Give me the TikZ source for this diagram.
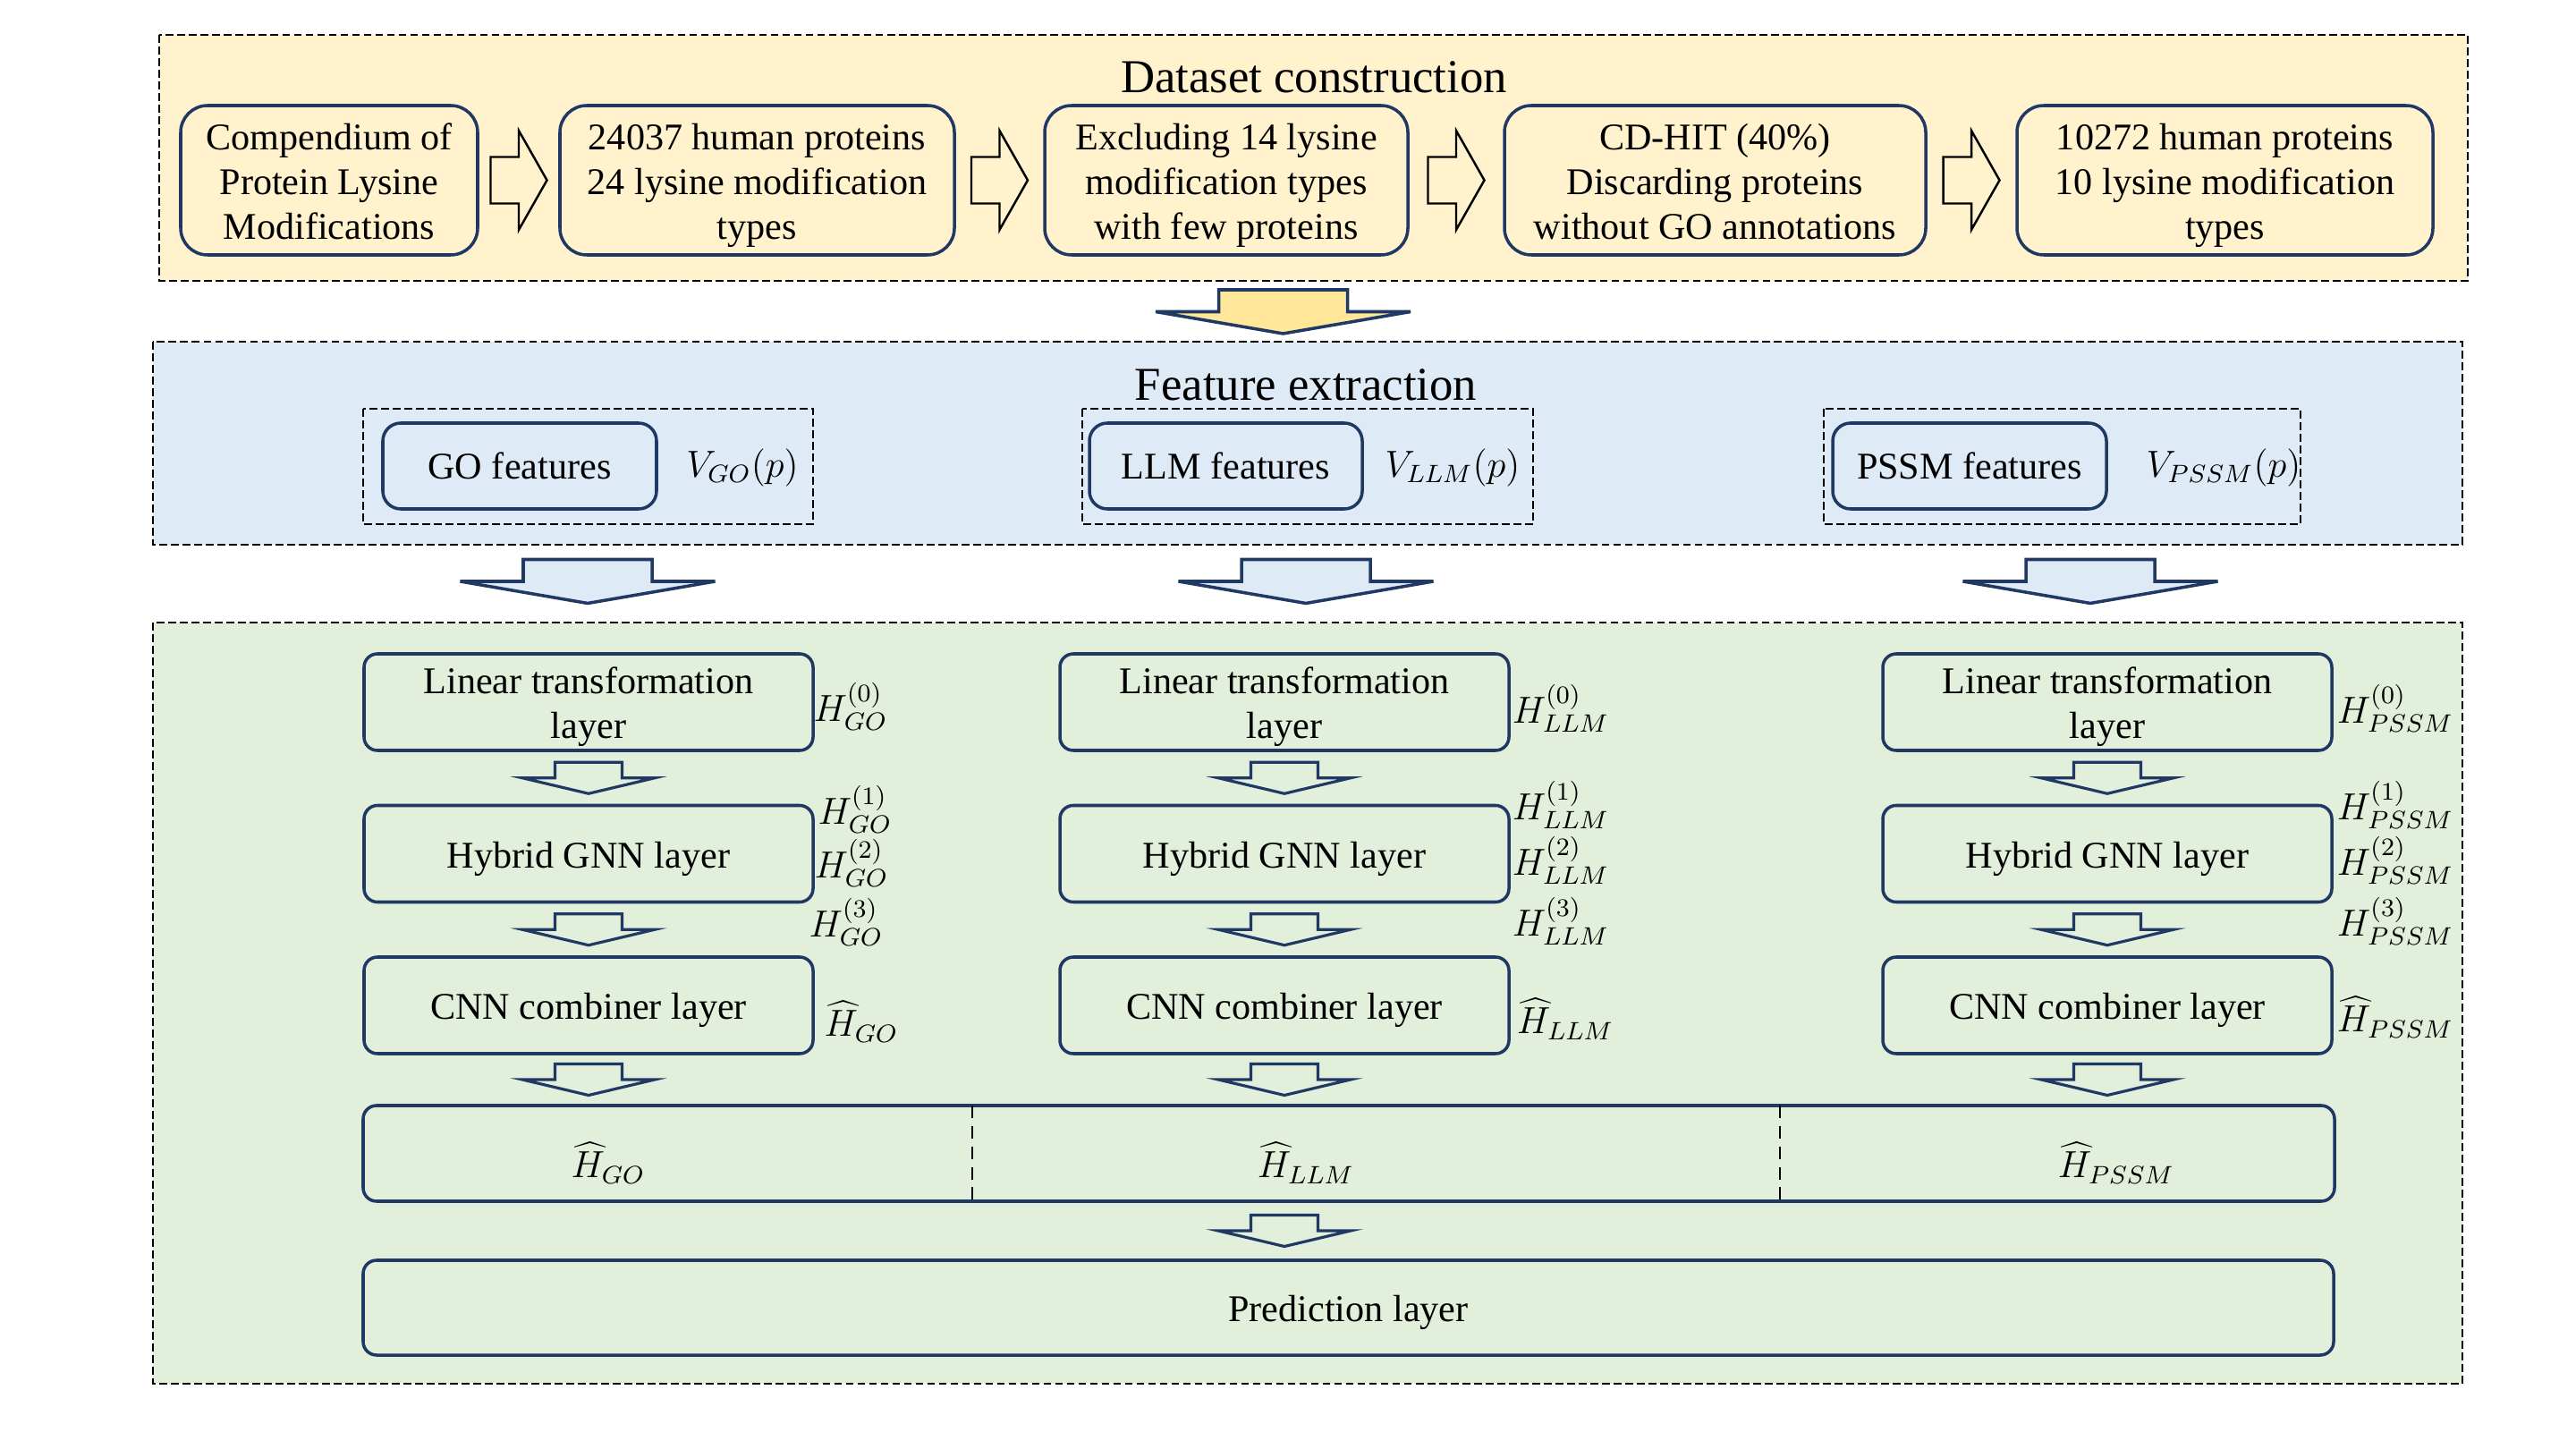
\documentclass[tikz,border=0pt]{standalone}
\usepackage{fontspec}
\setmainfont{Liberation Serif}
\usetikzlibrary{calc}
\definecolor{navy}{HTML}{1F3864}
\definecolor{dsfill}{HTML}{FFF2CC}
\definecolor{fefill}{HTML}{DEEBF7}
\definecolor{mofill}{HTML}{E2EFDA}
\definecolor{arrfill}{HTML}{FFE699}
\tikzset{
	panel/.style={draw=black,line width=0.6pt,dash pattern=on 2.5pt off 1.2pt},
	divider/.style={draw=black,line width=0.6pt,dash pattern=on 4pt off 2.5pt},
	title/.style={font=\fontsize{15}{18}\selectfont},
	lbl/.style={font=\fontsize{12}{14}\selectfont,inner sep=1pt},
	boxtext/.style={font=\fontsize{12}{14.2}\selectfont,
		execute at begin node={\rule{0pt}{12.5pt}},execute at end node={\rule[-3.5pt]{0pt}{3.5pt}}},
	threelines/.style={text height=40.9pt,inner ysep=0pt},
	twolines/.style={text height=26.7pt,inner ysep=0pt},
	topbox/.style={boxtext,threelines,draw=navy,line width=1pt,rounded corners=0.3cm,align=center,
		minimum height=1.67cm},
	featbox/.style={font=\fontsize{12}{14.2}\selectfont,draw=navy,line width=1pt,rounded corners=0.2cm,
		minimum width=3.06cm,minimum height=0.96cm},
	layerbox/.style={boxtext,draw=navy,line width=1pt,rounded corners=0.15cm,align=center,
		minimum width=5.02cm,minimum height=1.08cm},
	rarr/.pic={\draw[draw=black,line width=0.7pt,pic actions]
		(-0.315,-0.26) -- (0,-0.26) -- (0,-0.555) -- (0.315,0) -- (0,0.555) -- (0,0.26) -- (-0.315,0.26) -- cycle;},
	bigdarr/.pic={\draw[draw=navy,line width=1pt,pic actions]
		(-0.72,0.245) -- (0.72,0.245) -- (0.72,0) -- (1.425,0) -- (0,-0.245) -- (-1.425,0) -- (-0.72,0) -- cycle;},
	sdarr/.pic={\draw[draw=navy,line width=0.9pt,pic actions]
		(-0.375,0.175) -- (0.375,0.175) -- (0.375,0) -- (0.74,0) -- (0,-0.175) -- (-0.74,0) -- (-0.375,0) -- cycle;}
}
\begin{document}
\begin{tikzpicture}
	\useasboundingbox (0,0) rectangle (28.8,-16.2);
	\def\xg{6.58} % GO column
	\def\xl{14.36} % LLM column
	\def\xp{23.56} % PSSM column
	% dataset construction
	\draw[panel,fill=dsfill] (1.78,-0.39) rectangle (27.59,-3.14);
	\node[title] (dstitle) at (14.69,-0.86) {Dataset construction};
	\node[topbox,minimum width=3.32cm] (cplm) at (3.68,-2.015) {Compendium of\\Protein Lysine\\Modifications};
	\node[topbox,minimum width=4.41cm] (hpa) at (8.465,-2.015) {24037 human proteins\\24 lysine modification\\types};
	\node[topbox,minimum width=4.06cm] (excl) at (13.71,-2.015) {Excluding 14 lysine\\modification types\\with few proteins};
	\node[topbox,minimum width=4.71cm] (cdhit) at (19.175,-2.015) {CD-HIT (40\%)\\Discarding proteins\\without GO annotations};
	\node[topbox,minimum width=4.65cm] (hpb) at (24.875,-2.015) {10272 human proteins\\10 lysine modification\\types};
	\pic at ($(cplm.east)!.5!(hpa.west)$) {rarr};
	\pic at ($(hpa.east)!.5!(excl.west)$) {rarr};
	\pic at ($(excl.east)!.5!(cdhit.west)$) {rarr};
	\pic at ($(cdhit.east)!.5!(hpb.west)$) {rarr};
	\pic[fill=arrfill] at (14.345,-3.485) {bigdarr};
	% feature extraction
	\draw[panel,fill=fefill] (1.71,-3.82) rectangle (27.53,-6.09);
	\node[title] (fetitle) at (14.60,-4.30) {Feature extraction};
	\draw[panel] (4.06,-4.57) rectangle (9.09,-5.86);
	\node[featbox] (gof) at (5.81,-5.21) {GO features};
	\node[lbl] (vgo) at (8.30,-5.23) {$V_{GO}(p)$};
	\draw[panel] (12.10,-4.57) rectangle (17.14,-5.86);
	\node[featbox,minimum width=3.05cm] (llmf) at (13.705,-5.21) {LLM features};
	\node[lbl] (vllm) at (16.24,-5.23) {$V_{LLM}(p)$};
	\draw[panel] (20.39,-4.57) rectangle (25.72,-5.86);
	\node[featbox] (pssmf) at (22.02,-5.21) {PSSM features};
	\node[lbl] (vpssm) at (24.86,-5.23) {$V_{PSSM}(p)$};
	\pic[fill=fefill] at (6.57,-6.50) {bigdarr};
	\pic[fill=fefill] at (14.60,-6.50) {bigdarr};
	\pic[fill=fefill] at (23.37,-6.50) {bigdarr};
	% model
	\draw[panel,fill=mofill] (1.71,-6.96) rectangle (27.53,-15.47);
	\node[layerbox,twolines] (lingo) at (\xg,-7.85) {Linear transformation\\layer};
	\node[layerbox] (hybgo) at (\xg,-9.545) {Hybrid GNN layer};
	\node[layerbox] (cnngo) at (\xg,-11.24) {CNN combiner layer};
	\node[layerbox,twolines] (linllm) at (\xl,-7.85) {Linear transformation\\layer};
	\node[layerbox] (hybllm) at (\xl,-9.545) {Hybrid GNN layer};
	\node[layerbox] (cnnllm) at (\xl,-11.24) {CNN combiner layer};
	\node[layerbox,twolines] (linpssm) at (\xp,-7.85) {Linear transformation\\layer};
	\node[layerbox] (hybpssm) at (\xp,-9.545) {Hybrid GNN layer};
	\node[layerbox] (cnnpssm) at (\xp,-11.24) {CNN combiner layer};
	\node[lbl] (hgoa) at (9.51,-7.90) {$H_{GO}^{(0)}$};
	\node[lbl] (hgob) at (9.56,-9.05) {$H_{GO}^{(1)}$};
	\node[lbl] (hgoc) at (9.52,-9.65) {$H_{GO}^{(2)}$};
	\node[lbl] (hgod) at (9.46,-10.31) {$H_{GO}^{(3)}$};
	\node[lbl] (hgoe) at (9.63,-11.42) {$\widehat{H}_{GO}$};
	\node[lbl] (hllma) at (17.45,-7.92) {$H_{LLM}^{(0)}$};
	\node[lbl] (hllmb) at (17.45,-9.00) {$H_{LLM}^{(1)}$};
	\node[lbl] (hllmc) at (17.45,-9.62) {$H_{LLM}^{(2)}$};
	\node[lbl] (hllmd) at (17.45,-10.30) {$H_{LLM}^{(3)}$};
	\node[lbl] (hllme) at (17.50,-11.39) {$\widehat{H}_{LLM}$};
	\node[lbl] (hpssma) at (26.78,-7.92) {$H_{PSSM}^{(0)}$};
	\node[lbl] (hpssmb) at (26.78,-9.00) {$H_{PSSM}^{(1)}$};
	\node[lbl] (hpssmc) at (26.78,-9.62) {$H_{PSSM}^{(2)}$};
	\node[lbl] (hpssmd) at (26.78,-10.30) {$H_{PSSM}^{(3)}$};
	\node[lbl] (hpssme) at (26.78,-11.37) {$\widehat{H}_{PSSM}$};
	\pic at ($(lingo.south)!.5!(hybgo.north)$) {sdarr};
	\pic at ($(hybgo.south)!.5!(cnngo.north)$) {sdarr};
	\pic at ($(linllm.south)!.5!(hybllm.north)$) {sdarr};
	\pic at ($(hybllm.south)!.5!(cnnllm.north)$) {sdarr};
	\pic at ($(linpssm.south)!.5!(hybpssm.north)$) {sdarr};
	\pic at ($(hybpssm.south)!.5!(cnnpssm.north)$) {sdarr};
	% concatenation and prediction
	\node[layerbox,minimum width=22.04cm,minimum height=1.07cm] (cat) at (15.08,-12.895) {};
	\draw[divider] (10.87,-12.36) -- (10.87,-13.43);
	\draw[divider] (19.90,-12.36) -- (19.90,-13.43);
	\node[lbl] (catgo) at (6.80,-13.00) {$\widehat{H}_{GO}$};
	\node[lbl] (catllm) at (14.60,-13.00) {$\widehat{H}_{LLM}$};
	\node[lbl] (catpssm) at (23.66,-13.00) {$\widehat{H}_{PSSM}$};
	\pic at ($(cnngo.south)!.5!(cnngo.south |- cat.north)$) {sdarr};
	\pic at ($(cnnllm.south)!.5!(cnnllm.south |- cat.north)$) {sdarr};
	\pic at ($(cnnpssm.south)!.5!(cnnpssm.south |- cat.north)$) {sdarr};
	\node[layerbox,minimum width=22.03cm,minimum height=1.06cm] (pred) at (15.075,-14.62) {Prediction layer};
	\pic at ($(cnnllm.south |- cat.south)!.5!(cnnllm.south |- pred.north)$) {sdarr};
\end{tikzpicture}
\end{document}
